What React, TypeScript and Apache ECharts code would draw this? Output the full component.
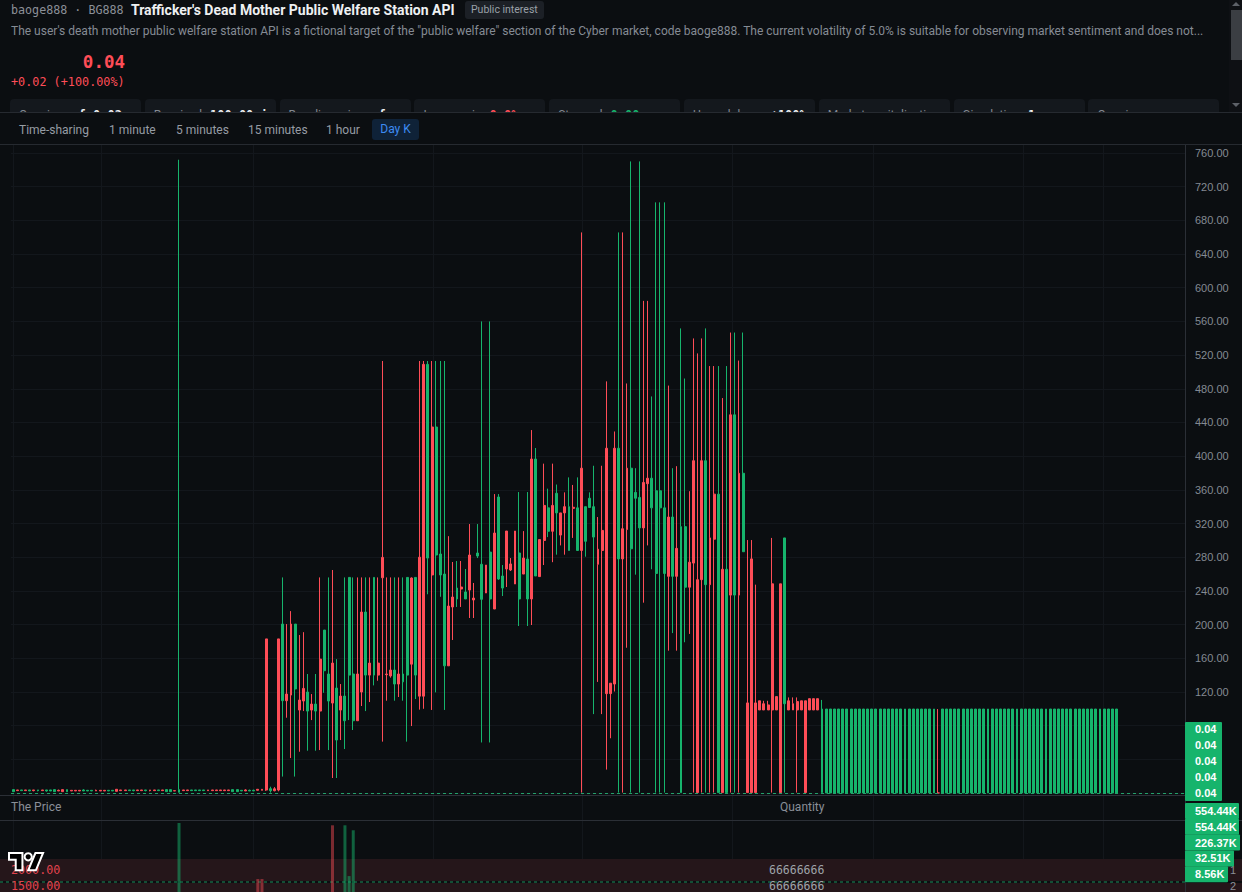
import React, { useEffect, useRef } from 'react';
import * as echarts from 'echarts';

const GREEN = '#16b46c';
const RED = '#ff4d57';
const VGREEN = 'rgba(22,180,108,0.5)';
const VRED = 'rgba(255,77,87,0.45)';
const BG = '#0b0e11';

// [open, close, low, high]
const flatStart = [
  [1.6, 4.0, 1.6, 4.0], [3.6, 2.8, 2.8, 3.6], [2.8, 3.6, 2.8, 3.6], [3.6, 2.8, 2.8, 3.6], [2.4, 3.6, 2.4, 3.6],
  [3.6, 2.8, 2.0, 3.6], [2.8, 3.6, 2.0, 3.6], [3.6, 2.8, 2.8, 3.6], [2.4, 3.6, 1.6, 3.6], [2.4, 3.6, 2.4, 3.6],
  [1.6, 4.0, 1.6, 4.0], [3.2, 2.4, 2.4, 4.0], [4.0, 1.6, 1.6, 4.0], [1.6, 4.0, 1.6, 4.0], [3.2, 2.4, 2.4, 3.2],
  [3.2, 2.4, 2.4, 3.2], [3.2, 2.4, 2.4, 3.2], [2.4, 3.6, 2.4, 4.4], [2.4, 3.2, 2.4, 3.2], [2.4, 3.2, 2.4, 3.2],
  [3.2, 2.4, 2.4, 4.0], [3.2, 2.4, 2.4, 3.2], [3.2, 2.4, 2.4, 3.2], [2.4, 3.2, 2.4, 3.2], [2.4, 3.2, 2.4, 3.2],
  [4.4, 2.0, 2.0, 4.4], [3.6, 2.8, 2.8, 3.6], [3.6, 2.8, 2.8, 3.6], [2.8, 3.6, 2.8, 3.6], [2.8, 3.6, 2.0, 3.6],
  [3.6, 2.8, 2.8, 3.6], [3.6, 2.8, 2.8, 3.6], [2.8, 3.6, 2.0, 3.6], [3.6, 2.8, 2.0, 3.6], [3.6, 2.8, 2.8, 3.6],
  [2.8, 3.6, 2.8, 3.6], [3.6, 2.8, 2.8, 3.6], [1.6, 4.0, 1.6, 4.0], [1.6, 4.0, 1.6, 4.0], [2.8, 2.4, 2.4, 2.8],
  [0.8, 4.0, 0.8, 752], [3.6, 2.8, 2.8, 3.6], [3.6, 2.8, 2.8, 3.6], [2.8, 3.6, 2.8, 3.6], [2.8, 3.6, 2.8, 3.6],
  [2.8, 3.6, 2.8, 3.6], [2.8, 3.6, 2.8, 3.6], [3.6, 2.8, 2.8, 3.6], [3.6, 2.8, 2.8, 3.6], [3.6, 2.8, 2.8, 3.6],
  [3.6, 2.8, 2.8, 3.6], [3.6, 2.8, 2.8, 3.6], [3.6, 2.8, 2.8, 3.6], [1.6, 4.0, 1.6, 4.0], [1.6, 4.0, 1.6, 4.0],
  [2.4, 3.2, 2.4, 3.2], [3.6, 2.4, 2.4, 4.4], [2.4, 3.2, 2.4, 4.0], [2.4, 3.2, 2.4, 4.0], [4.4, 3.2, 3.2, 4.4],
  [4.4, 3.2, 3.2, 4.4],
];

const rally = [
  [183, 3.5, 2.5, 183], [2.7, 5.1, 0.5, 7.5], [5.0, 2.7, 2.0, 7.0], [183, 3.5, 2.0, 183],
  [109.6, 200.6, 19.5, 256], [117.5, 109.6, 89.4, 200.6], [200.6, 116.3, 41.5, 216], [123.5, 200.6, 19.5, 200.6],
  [110.4, 98.5, 49, 187.6], [124.2, 109.2, 97.3, 191], [97.3, 119.9, 50.2, 141.3], [105.6, 98.5, 86.6, 117.5],
  [97.3, 105.6, 50.2, 141.3], [159, 97.3, 51, 256], [145.2, 193.5, 119, 193.5], [109.2, 141.3, 51, 256],
  [154.3, 106.8, 17.8, 264.8], [62.9, 124.6, 17.8, 159], [115.1, 98.5, 62.9, 129.4], [85.8, 115.1, 52.2, 256],
  [140, 256, 86.6, 256], [85.8, 141.3, 74.8, 256], [141.3, 85.8, 85.8, 256], [214.9, 119.9, 103.3, 256],
  [140, 214.9, 97.3, 256], [154.3, 140, 108, 256], [140, 256, 127.8, 256], [154.3, 140, 133.3, 256],
  [279.8, 255.6, 61, 513], [141.3, 140.5, 109.6, 256], [146, 139, 137, 256], [129.4, 146, 109.6, 256],
  [141.3, 129.4, 114, 256], [132, 141.3, 109.6, 256], [140, 256, 61, 256], [255.3, 153, 79.5, 256],
  [140, 256, 111.6, 256],
];

const peak = [
  [280, 115, 99, 513], [509, 115, 100, 513], [279, 509, 236, 513], [434.6, 258.9, 98.6, 513],
  [282.6, 434.6, 119.5, 513], [258.9, 283.8, 233, 513], [151, 260, 98.6, 513], [222, 151, 151, 305],
  [232.7, 220.9, 181.7, 274.3], [230.4, 243.4, 220.9, 275.5], [244.6, 242.2, 220.9, 275.5], [230.4, 238.7, 230.4, 266],
  [282.6, 241, 207.8, 319.4], [231.5, 229.2, 207.8, 249.4], [281.4, 285, 279, 319.4], [230, 271.6, 60, 560],
  [270.7, 237.5, 237.5, 270.7], [230.4, 286.1, 60, 560], [308.7, 218.5, 218.5, 355], [254.1, 351.5, 253, 355],
  [243.4, 257.7, 233.9, 270.7], [311.1, 266, 244.6, 311.1], [272, 264.8, 263.6, 279], [311.1, 248.2, 248.2, 311.1],
  [230.4, 285, 198.3, 357.4], [279, 260, 260, 311], [230.4, 277.9, 198.3, 357.4], [396.6, 230.4, 199.5, 431],
  [257.7, 396.6, 257.7, 409.7], [301, 257, 257, 301], [341.5, 299.9, 270.7, 391.1], [310.8, 338.6, 303.9, 361.4],
  [341.5, 310.8, 274.1, 391.1], [332.6, 355.9, 283, 366.3], [332.6, 306.3, 294, 332.6], [340, 332.6, 283, 357],
  [288, 340, 288, 374.8], [339.3, 338, 302.9, 365.8], [288, 338.6, 288, 374.8], [385.7, 288, 0.5, 665.7],
  [298.9, 340, 280.6, 340], [339, 350, 339, 357], [303.9, 340, 93.7, 388.6], [289.5, 271.6, 131.9, 327.7],
  [311.8, 288, 93.7, 388.6], [409.4, 118, 27.8, 488.8], [130.4, 118, 65, 130.4], [409.4, 129.4, 120.5, 429.3],
  [278, 409.4, 0.5, 665.7], [313.8, 278, 0.5, 665.7], [385.7, 312.8, 172.5, 486.3], [290, 385.7, 0.5, 750],
  [350, 357, 259.3, 385.7], [314.8, 351, 0.5, 750], [368.8, 314.8, 226, 584.4], [373.8, 367.3, 294, 584.4],
  [338.6, 373.8, 265.7, 470.9], [260.7, 358.9, 0.5, 701.4], [338.6, 358.9, 0.5, 701.4], [260.7, 338.6, 0.5, 701.4],
  [327.7, 257.3, 169, 483.8], [257.3, 327.7, 189.9, 385.7], [290.5, 257.3, 169, 388.1], [0.5, 316.3, 0.5, 551.7],
  [244.4, 316.3, 179, 492.2], [274.1, 244.4, 188.9, 358.4], [394.6, 273, 0.5, 539.8], [253.3, 0.5, 0.5, 522],
  [394.6, 253.3, 0.5, 539.8], [247.4, 394.6, 0.5, 551.7], [302.9, 247.4, 0.5, 507], [354.9, 301.4, 0.5, 507],
  [0.5, 354.9, 0.5, 507], [265.7, 0.5, 0.5, 469], [0.5, 265.7, 0.5, 507], [449.1, 235, 0.5, 546.8],
  [235, 449.1, 0.5, 546.8], [379.7, 235, 0.5, 513.5], [286.5, 379.7, 286.5, 546.8],
];

const fall = [
  [107, 0.5, 0.5, 300.4], [278, 0.5, 0.5, 300.4], [107, 0.5, 0.5, 247.4], [109.5, 98.6, 98.6, 109.5],
  [106, 98.6, 98.6, 109.5], [104.6, 98.6, 98.6, 109.5], [248.4, 98.6, 0.5, 302.9], [114.5, 98.6, 98.6, 114.5],
  [248.4, 0.5, 0.5, 248.4], [106, 302.9, 0.5, 302.9], [109.5, 98.6, 98.6, 113.5], [106, 98.6, 98.6, 113.5],
  [108.6, 98.6, 0.5, 113.5], [109.5, 98.6, 98.6, 109.5], [109.5, 0.5, 0.5, 109.5], [112, 98.6, 98.6, 112],
  [112, 98.6, 98.6, 112], [112, 98.6, 98.6, 112], [0.5, 99.7, 0.5, 110.5],
];

const G = [0.04, 99.7, 0.04, 99.7];
const R = [0.05, 0.04, 0.04, 99.7];
const tail = [
  G, G, G, G, G, G, G, G, G, G, G, G, G, G, G, G, G, G, G, G, G, G, G, G, G, G, G,
  R,
  G, G, G, G, G, G, G, G, G, G, G, G, G, G, G, G, G, G, G, G, G, G, G, G, G, G, G, G, G, G, G, G, G, G, G, G, G, G, G, G, G, G, G,
];

const ohlc = [...flatStart, ...rally, ...peak, ...fall, ...tail];
const SLOTS = 283;
const categories = Array.from({ length: SLOTS }, (_, i) => String(i + 1));

const volIdx = [40, 59, 60, 77, 80, 81, 82];
const volVal = [554440, 104000, 104000, 536000, 536000, 128000, 496000];

const priceTags = ['0.04', '0.04', '0.04', '0.04', '0.04'];
const volTags = ['554.44K', '554.44K', '226.37K', '32.51K', '8.56K'];
const volTagW = [54, 54, 55, 49, 43];
const bookPrices = ['2000.00', '1500.00'];
const bookQty = ['66666666', '66666666'];
const bookRank = ['1', '2'];
const vGridX = [13, 101, 253, 433, 582, 732, 873, 1023, 1103];

const tabs = ['Time-sharing', '1 minute', '5 minutes', '15 minutes', '1 hour'];
const tabX = [19, 109, 176, 248, 326];
const cards: [string, string, string][] = [
  ['Opening', 'of 0.02', '#eaecef'],
  ['Received', '100.00 in', '#eaecef'],
  ['Baseline price', 'of', '#eaecef'],
  ['Increase in', '0.0%', RED],
  ['Stopped', '0.00', GREEN],
  ['Up and down', '±100%', '#eaecef'],
  ['Market capitalization', '', '#eaecef'],
  ['Circulation', '1', '#eaecef'],
  ['Opening', '', '#eaecef'],
];

function buildOption() {
  const volume = ohlc.map((d, i) => {
    const k = volIdx.indexOf(i);
    if (k < 0) return '-';
    return { value: volVal[k], itemStyle: { color: d[1] >= d[0] ? VGREEN : VRED } };
  });
  const s = 0.96;
  const lx = 9;
  const ly = 708 - 4 * s;
  const P = (x: number, y: number) => [lx + x * s, ly + y * s];
  const graphic: any[] = [];
  vGridX.forEach((x) => {
    graphic.push({ type: 'line', silent: true, z: 0, shape: { x1: x + 0.5, y1: 0, x2: x + 0.5, y2: 747 }, style: { stroke: '#13171c', lineWidth: 1 } });
  });
  graphic.push({ type: 'line', silent: true, z: 1, shape: { x1: 1185.5, y1: 0, x2: 1185.5, y2: 747 }, style: { stroke: '#2b2f36', lineWidth: 1 } });
  graphic.push({ type: 'line', silent: true, z: 1, shape: { x1: 0, y1: 650.5, x2: 1185, y2: 650.5 }, style: { stroke: '#2b2f36', lineWidth: 1 } });
  graphic.push({ type: 'line', silent: true, z: 1, shape: { x1: 0, y1: 675.5, x2: 1242, y2: 675.5 }, style: { stroke: '#2b2f36', lineWidth: 1 } });
  graphic.push({ type: 'text', silent: true, z: 5, style: { text: 'The Price', x: 11, y: 662, fill: '#8a8f98', fontSize: 12, fontFamily: 'Roboto', verticalAlign: 'middle' } });
  graphic.push({ type: 'text', silent: true, z: 5, style: { text: 'Quantity', x: 780, y: 662, fill: '#8a8f98', fontSize: 12, fontFamily: 'Roboto', verticalAlign: 'middle' } });
  // order book bands
  graphic.push({ type: 'rect', silent: true, z: 0, shape: { x: 0, y: 714, width: 1242, height: 22 }, style: { fill: '#25161a' } });
  graphic.push({ type: 'rect', silent: true, z: 0, shape: { x: 0, y: 738, width: 1242, height: 10 }, style: { fill: '#25161a' } });
  graphic.push({ type: 'line', silent: true, z: 1, shape: { x1: 0, y1: 737, x2: 1185, y2: 737 }, style: { stroke: '#1f8f5c', lineWidth: 1, lineDash: [3, 3] } });
  [725, 741].forEach((y, i) => {
    graphic.push({ type: 'text', silent: true, z: 5, style: { text: bookPrices[i], x: 11, y, fill: '#e2434e', fontSize: 11.7, fontFamily: 'DejaVu Sans Mono', verticalAlign: 'middle' } });
    graphic.push({ type: 'text', silent: true, z: 5, style: { text: bookQty[i], x: 769, y, fill: '#9ea3a9', fontSize: 11.5, fontFamily: 'DejaVu Sans Mono', verticalAlign: 'middle' } });
    graphic.push({ type: 'text', silent: true, z: 5, style: { text: bookRank[i], x: 1230, y, fill: '#8a8f98', fontSize: 11, fontFamily: 'Liberation Sans', verticalAlign: 'middle' } });
  });
  // price tags
  graphic.push({ type: 'rect', silent: true, z: 20, shape: { x: 1185, y: 577, width: 37, height: 79, r: 1 }, style: { fill: GREEN } });
  priceTags.forEach((t, i) => {
    graphic.push({ type: 'text', silent: true, z: 21, style: { text: t, x: 1195, y: 584 + i * 16, fill: '#ffffff', fontSize: 11, fontWeight: 'bold', fontFamily: 'Liberation Sans', verticalAlign: 'middle' } });
  });
  volTags.forEach((t, i) => {
    const top = 658 + i * 15.8;
    graphic.push({ type: 'rect', silent: true, z: 20, shape: { x: 1185, y: top, width: volTagW[i], height: 16, r: 1 }, style: { fill: GREEN } });
    graphic.push({ type: 'text', silent: true, z: 21, style: { text: t, x: 1195, y: top + 8, fill: '#ffffff', fontSize: 11, fontWeight: 'bold', fontFamily: 'Liberation Sans', verticalAlign: 'middle' } });
  });
  // TradingView-like logo
  graphic.push({
    type: 'group', silent: true, z: 30, children: [
      { type: 'polygon', z: 30, shape: { points: [P(0, 4), P(14, 4), P(14, 22), P(7, 22), P(7, 11), P(0, 11)] }, style: { fill: '#000000', stroke: '#ffffff', lineWidth: 2 } },
      { type: 'circle', z: 30, shape: { cx: P(20, 8)[0], cy: P(20, 8)[1], r: 3.6 }, style: { fill: '#000000', stroke: '#ffffff', lineWidth: 2 } },
      { type: 'polygon', z: 30, shape: { points: [P(28, 22), P(20, 22), P(27.5, 4), P(35.5, 4)] }, style: { fill: '#000000', stroke: '#ffffff', lineWidth: 2 } },
    ],
  });

  return {
    animation: false,
    backgroundColor: 'transparent',
    grid: [
      { left: 11, width: 1174, top: 8, height: 640 },
      { left: 11, width: 1174, top: 677, height: 70 },
    ],
    xAxis: [0, 1].map((g) => ({
      type: 'category', gridIndex: g, data: categories, boundaryGap: true,
      axisLine: { show: false }, axisTick: { show: false }, axisLabel: { show: false }, splitLine: { show: false },
    })),
    yAxis: [
      {
        type: 'value', gridIndex: 0, position: 'right', min: 0, max: 760, interval: 40,
        axisLine: { show: false }, axisTick: { show: false },
        axisLabel: { color: '#848a93', fontSize: 11, fontFamily: 'Liberation Sans', margin: 10, formatter: (v: number) => (v < 100 ? '' : v.toFixed(2)) },
        splitLine: { lineStyle: { color: '#13171c', width: 1 } },
      },
      {
        type: 'value', gridIndex: 1, position: 'right', min: 0, max: 562500,
        axisLine: { show: false }, axisTick: { show: false }, axisLabel: { show: false }, splitLine: { show: false },
      },
    ],
    series: [
      {
        type: 'candlestick', xAxisIndex: 0, yAxisIndex: 0, data: ohlc, barWidth: 2.4,
        itemStyle: { color: GREEN, color0: RED, borderColor: GREEN, borderColor0: RED, borderWidth: 1 },
        markLine: {
          silent: true, symbol: ['none', 'none'], label: { show: false },
          lineStyle: { color: '#23a06a', type: [3, 3], width: 1 },
          data: [{ yAxis: 0.04 }],
        },
      },
      { type: 'bar', xAxisIndex: 1, yAxisIndex: 1, data: volume, barWidth: 3 },
    ],
    graphic,
  };
}

export default function App() {
  const ref = useRef<HTMLDivElement>(null);
  useEffect(() => {
    document.body.style.margin = '0';
    const chart = echarts.init(ref.current as HTMLDivElement, undefined, { renderer: 'svg' });
    chart.setOption(buildOption() as any);
    return () => chart.dispose();
  }, []);

  const mono = '"DejaVu Sans Mono", monospace';
  return (
    <div style={{ position: 'fixed', left: 0, top: 0, width: 1242, height: 892, background: BG, overflow: 'hidden', fontFamily: 'Roboto, sans-serif' }}>
      {/* header */}
      <div style={{ position: 'absolute', left: 11, top: 2, fontFamily: mono, fontSize: 11.7, color: '#8b9098', lineHeight: '16px', whiteSpace: 'nowrap' }}>baoge888 · BG888</div>
      <div style={{ position: 'absolute', left: 131, top: 1, fontSize: 14, fontWeight: 700, color: '#eef0f2', lineHeight: '18px', whiteSpace: 'nowrap' }}>Trafficker's Dead Mother Public Welfare Station API</div>
      <div style={{ position: 'absolute', left: 465, top: 1, height: 18, padding: '0 6px', background: '#1c2026', borderRadius: 3, fontSize: 10.5, color: '#9aa0a8', lineHeight: '18px', whiteSpace: 'nowrap' }}>Public interest</div>
      <div style={{ position: 'absolute', left: 11, top: 23, width: 1200, fontSize: 12, color: '#858b94', lineHeight: '16px', whiteSpace: 'nowrap', overflow: 'hidden' }}>The user's death mother public welfare station API is a fictional target of the "public welfare" section of the Cyber market, code baoge888. The current volatility of 5.0% is suitable for observing market sentiment and does not...</div>
      <div style={{ position: 'absolute', left: 11, top: 50, width: 114, textAlign: 'right', fontFamily: mono, fontWeight: 700, fontSize: 17.5, color: RED, lineHeight: '24px' }}>0.04</div>
      <div style={{ position: 'absolute', left: 11, top: 74, fontFamily: mono, fontSize: 11.8, color: RED, lineHeight: '16px', whiteSpace: 'nowrap' }}>+0.02 (+100.00%)</div>
      {cards.map(([label, value, color], i) => (
        <div key={i} style={{ position: 'absolute', left: 10 + i * 134.8, top: 99, width: 131, height: 40, background: '#14181d', borderRadius: 4, boxSizing: 'border-box', padding: '5px 0 0 9px', whiteSpace: 'nowrap', overflow: 'hidden' }}>
          <span style={{ fontSize: 12, color: '#848a93' }}>{label}</span>
          {value ? <span style={{ marginLeft: 8, fontFamily: mono, fontWeight: 700, fontSize: 12, color }}>{value}</span> : null}
        </div>
      ))}
      {/* scrollbar */}
      <div style={{ position: 'absolute', left: 1229, top: 0, width: 13, height: 113, background: '#0e1014' }} />
      <div style={{ position: 'absolute', left: 1231, top: 10, width: 11, height: 50, background: '#3b3e43' }} />
      <div style={{ position: 'absolute', left: 1232, top: 2, width: 0, height: 0, borderLeft: '4px solid transparent', borderRight: '4px solid transparent', borderBottom: '4px solid #5d6168' }} />
      <div style={{ position: 'absolute', left: 1232, top: 103, width: 0, height: 0, borderLeft: '4px solid transparent', borderRight: '4px solid transparent', borderTop: '4px solid #5d6168' }} />
      {/* tab bar */}
      <div style={{ position: 'absolute', left: 0, top: 112, width: 1242, height: 33, background: BG, borderTop: '1px solid #262a30', borderBottom: '1px solid #262a30', boxSizing: 'border-box' }}>
        {tabs.map((t, i) => (
          <div key={t} style={{ position: 'absolute', left: tabX[i], top: 9, fontSize: 12, color: '#969ca4', lineHeight: '16px', whiteSpace: 'nowrap' }}>{t}</div>
        ))}
        <div style={{ position: 'absolute', left: 372, top: 6, width: 47, height: 21, background: '#0f2238', borderRadius: 3, fontSize: 12, color: '#3d8bf2', lineHeight: '21px', textAlign: 'center' }}>Day K</div>
      </div>
      <div ref={ref} style={{ position: 'absolute', left: 0, top: 145, width: 1242, height: 747 }} />
    </div>
  );
}
